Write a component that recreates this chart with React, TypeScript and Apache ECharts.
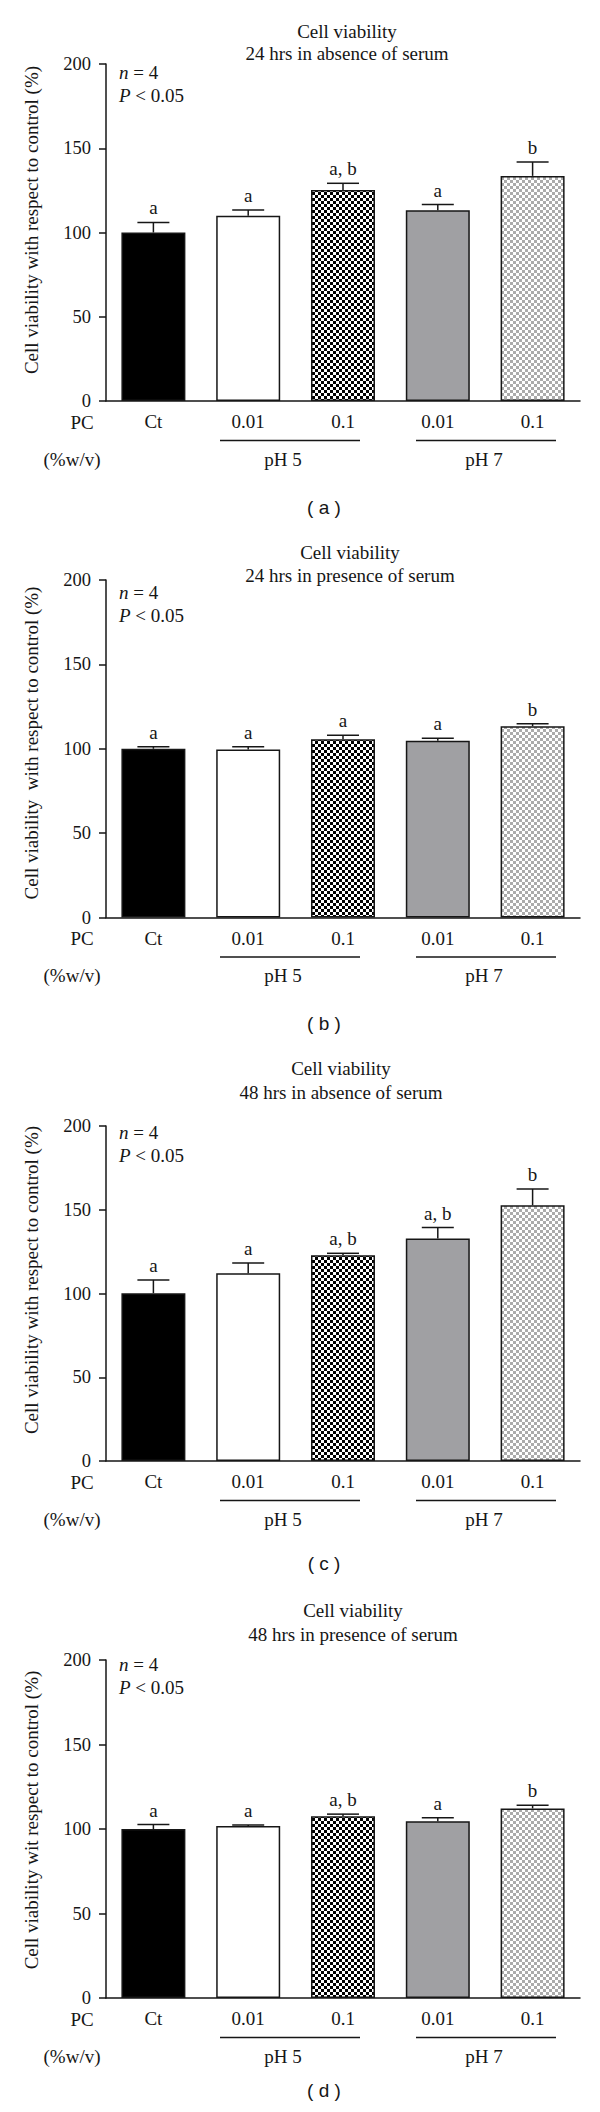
import React, { useEffect, useRef } from "react";
import * as echarts from "echarts";

// ---------- data ----------
const categories = ["Ct", "0.01 pH 5", "0.1 pH 5", "0.01 pH 7", "0.1 pH 7"];
const concLabels = ["Ct", "0.01", "0.1", "0.01", "0.1"];
const groupLabels = ["pH 5", "pH 7"];
const panelLabels = ["( a )", "( b )", "( c )", "( d )"];
const titleLine1 = ["Cell viability", "Cell viability", "Cell viability", "Cell viability"];
const titleLine2 = [
  "24 hrs in absence of serum",
  "24 hrs in presence of serum",
  "48 hrs in absence of serum",
  "48 hrs in presence of serum",
];
const yAxisNames = [
  "Cell viability with respect to control (%)",
  "Cell viability  with respect to control (%)",
  "Cell viability with respect to control (%)",
  "Cell viability wit respect to control (%)",
];
const yTicks = [0, 50, 100, 150, 200];

const meansA = [100, 110, 125.2, 113.2, 133.6];
const errA = [6, 3.4, 4, 3.4, 8.2];
const lettersA = ["a", "a", "a, b", "a", "b"];

const meansB = [100, 99.6, 105.6, 104.8, 113.4];
const errB = [1.2, 1.6, 2.4, 1.4, 1.4];
const lettersB = ["a", "a", "a", "a", "b"];

const meansC = [100.2, 112.1, 122.8, 132.9, 152.7];
const errC = [7.9, 6.1, 1.2, 6.5, 9.7];
const lettersC = ["a", "a", "a, b", "a, b", "b"];

const meansD = [100, 101.8, 107.6, 104.6, 112.2];
const errD = [2.6, 0.6, 1.2, 2, 1.8];
const lettersD = ["a", "a", "a, b", "a", "b"];

const allMeans = [meansA, meansB, meansC, meansD];
const allErr = [errA, errB, errC, errD];
const allLetters = [lettersA, lettersB, lettersC, lettersD];

// ---------- layout ----------
const GRID_LEFT = 106;
const GRID_WIDTH = 474;
const gridTops = [64, 580, 1126, 1660];
const gridHeights = [337, 337.5, 335, 338];
const titleX = [347, 350, 341, 353];
const title1Y = [31, 552, 1068, 1610];
const title2Y = [53, 575, 1092, 1634];
const statY = [72, 592, 1132, 1664];
const yNameY = [220, 743, 1280, 1820];
const panelLabelY = [507, 1023, 1563, 2090];

const SERIF = "'Liberation Serif', 'Times New Roman', serif";
const INK = "#161616";
const FS = 19;

function makeChecker(c1: string, c2: string, cell: number) {
  const cv = document.createElement("canvas");
  cv.width = cell * 2;
  cv.height = cell * 2;
  const ctx = cv.getContext("2d")!;
  ctx.fillStyle = c2;
  ctx.fillRect(0, 0, cell * 2, cell * 2);
  ctx.fillStyle = c1;
  ctx.fillRect(0, 0, cell, cell);
  ctx.fillRect(cell, cell, cell, cell);
  return cv;
}

export default function App() {
  const ref = useRef<HTMLDivElement>(null);

  useEffect(() => {
    if (!ref.current) return;
    const chart = echarts.init(ref.current, undefined, { renderer: "svg" });

    const dense = makeChecker("#000000", "#ffffff", 3);
    const light = makeChecker("#ababab", "#ffffff", 3);
    const fills: any[] = [
      "#000000",
      "#ffffff",
      { image: dense, repeat: "repeat" },
      "#a0a0a3",
      { image: light, repeat: "repeat" },
    ];

    const grids: any[] = [];
    const xAxes: any[] = [];
    const yAxes: any[] = [];
    const series: any[] = [];
    const graphics: any[] = [];

    const txt = (x: number, y: number, text: string, extra: any = {}) => ({
      type: "text",
      x,
      y,
      style: {
        text,
        fontSize: FS,
        fontFamily: SERIF,
        fill: INK,
        align: "center",
        verticalAlign: "middle",
        ...extra,
      },
    });

    for (let p = 0; p < 4; p++) {
      const top = gridTops[p];
      const Z = top + gridHeights[p];
      grids.push({ left: GRID_LEFT, width: GRID_WIDTH, top, height: gridHeights[p] });
      xAxes.push({
        type: "category",
        gridIndex: p,
        data: categories,
        axisLine: { show: true, lineStyle: { color: INK, width: 1.5 } },
        axisTick: { show: false },
        axisLabel: {
          margin: 11,
          fontSize: FS,
          fontFamily: SERIF,
          color: INK,
          formatter: (_v: string, i: number) => concLabels[i],
        },
        splitLine: { show: false },
      });
      yAxes.push({
        type: "value",
        gridIndex: p,
        min: 0,
        max: 200,
        interval: 50,
        axisLine: { show: true, lineStyle: { color: INK, width: 1.5 } },
        axisTick: { show: true, length: 7, lineStyle: { color: INK, width: 1.5 } },
        axisLabel: {
          margin: 15,
          fontSize: 18.5,
          fontFamily: SERIF,
          color: INK,
          formatter: (v: number) => (yTicks.includes(v) ? String(v) : ""),
        },
        splitLine: { show: false },
      });

      const means = allMeans[p];
      const errs = allErr[p];
      const letters = allLetters[p];

      series.push({
        type: "bar",
        xAxisIndex: p,
        yAxisIndex: p,
        barWidth: "67.5%",
        data: means.map((m, i) => ({
          value: m,
          itemStyle: { color: fills[i], borderColor: INK, borderWidth: 1.5 },
        })),
        z: 2,
      });

      series.push({
        type: "custom",
        xAxisIndex: p,
        yAxisIndex: p,
        encode: { x: 0, y: 1 },
        z: 3,
        data: means.map((m, i) => [i, m, errs[i]]),
        renderItem: (params: any, api: any) => {
          const idx = api.value(0);
          const mean = api.value(1);
          const err = api.value(2);
          const base = api.coord([idx, mean]);
          const tp = api.coord([idx, mean + err]);
          const bw = api.size([1, 0])[0] * 0.675;
          const half = bw / 4;
          return {
            type: "group",
            children: [
              {
                type: "line",
                shape: { x1: base[0], y1: base[1], x2: tp[0], y2: tp[1] },
                style: { stroke: INK, lineWidth: 1.5 },
              },
              {
                type: "line",
                shape: { x1: tp[0] - half, y1: tp[1], x2: tp[0] + half, y2: tp[1] },
                style: { stroke: INK, lineWidth: 1.5 },
              },
              {
                type: "text",
                x: tp[0],
                y: tp[1] - 5,
                style: {
                  text: letters[params.dataIndex],
                  fontSize: FS,
                  fontFamily: SERIF,
                  fill: INK,
                  align: "center",
                  verticalAlign: "bottom",
                },
              },
            ],
          };
        },
      });

      // titles
      graphics.push(txt(titleX[p], title1Y[p], titleLine1[p]));
      graphics.push(txt(titleX[p], title2Y[p], titleLine2[p]));
      // n = 4, P < 0.05
      const rich = { i: { fontStyle: "italic", fontSize: FS, fontFamily: SERIF, fill: INK } };
      graphics.push(txt(119, statY[p], "{i|n} = 4", { align: "left", rich }));
      graphics.push(txt(119, statY[p] + 23.5, "{i|P} < 0.05", { align: "left", rich }));
      // y axis name
      graphics.push({
        type: "text",
        x: 31,
        y: yNameY[p],
        rotation: Math.PI / 2,
        style: { text: yAxisNames[p], fontSize: FS, fontFamily: SERIF, fill: INK, align: "center", verticalAlign: "middle" },
      });
      // PC and (%w/v)
      graphics.push(txt(82, Z + 21, "PC"));
      graphics.push(txt(72, Z + 58, "(%w/v)"));
      // group underlines and labels
      const groups = [
        { x1: 220, x2: 360, cx: 283 },
        { x1: 416, x2: 556, cx: 484 },
      ];
      groups.forEach((g, gi) => {
        graphics.push({
          type: "line",
          shape: { x1: g.x1, y1: Z + 39.5, x2: g.x2, y2: Z + 39.5 },
          style: { stroke: INK, lineWidth: 1.3 },
        });
        graphics.push(txt(g.cx, Z + 58, groupLabels[gi]));
      });
      // panel label
      graphics.push(
        txt(324, panelLabelY[p], panelLabels[p], {
          fontSize: 19,
          fontFamily: "'Liberation Sans', Arial, sans-serif",
        })
      );
    }

    chart.setOption({
      animation: false,
      backgroundColor: "#ffffff",
      grid: grids,
      xAxis: xAxes,
      yAxis: yAxes,
      series,
      graphic: graphics,
    });

    return () => chart.dispose();
  }, []);

  return (
    <div
      ref={ref}
      style={{ position: "absolute", left: 0, top: 0, width: 600, height: 2112, background: "#fff" }}
    />
  );
}
